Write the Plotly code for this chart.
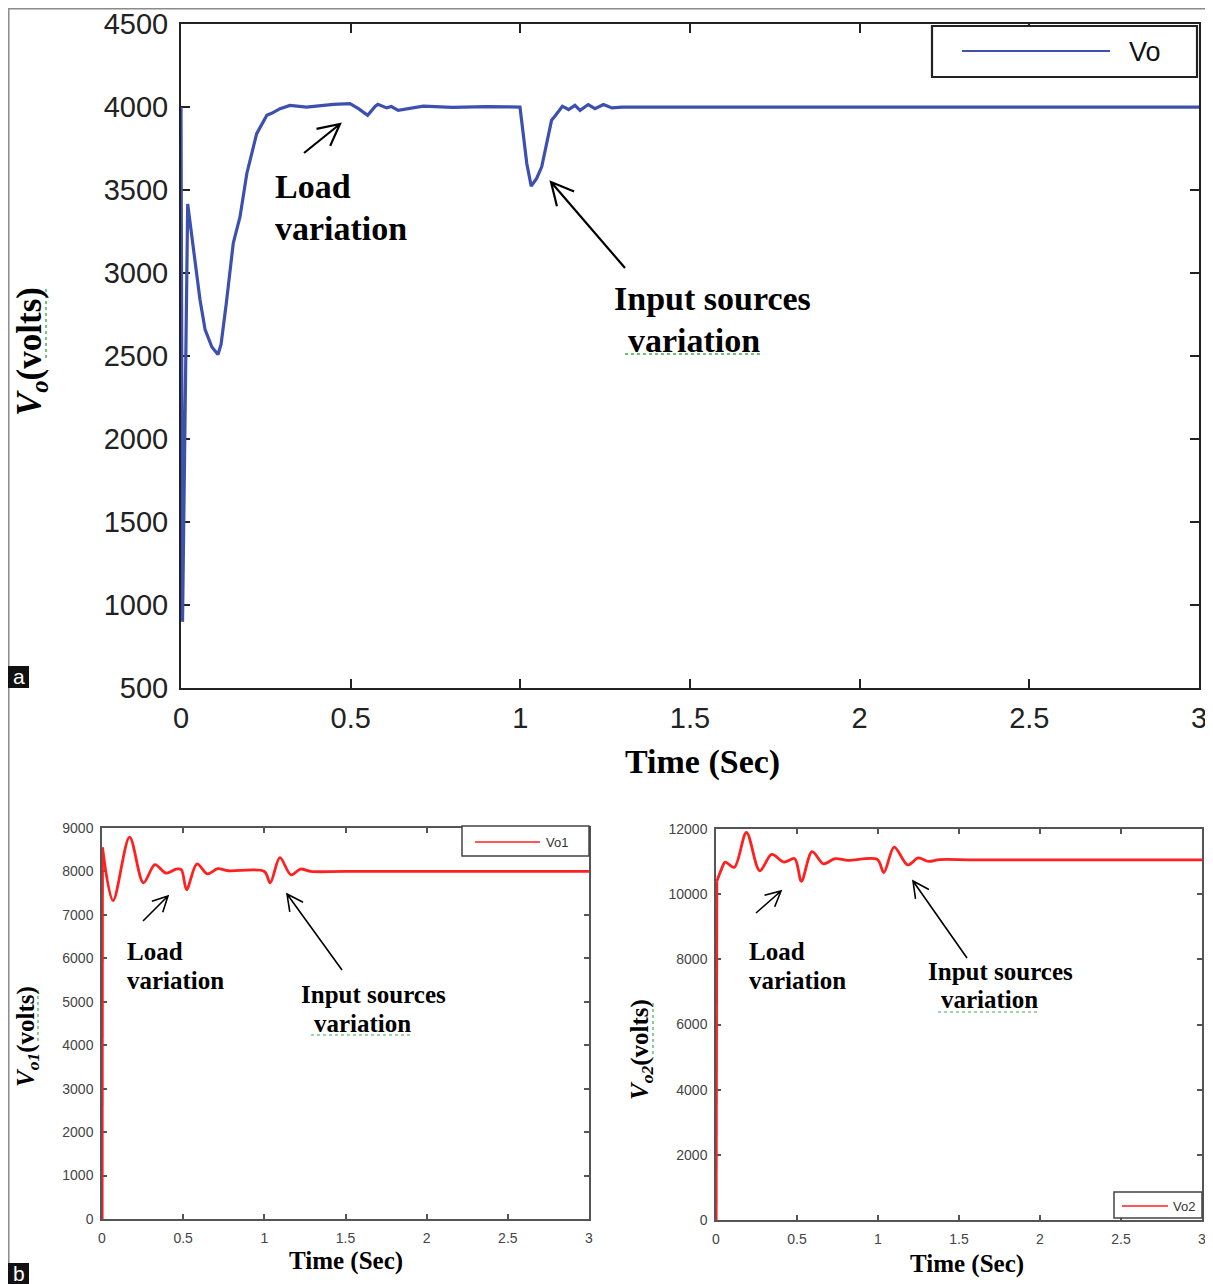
import math
import plotly.graph_objects as go

W, H = 1213, 1284          # browser window
OFF = 8                    # default page body margin
FW, FH = W - OFF, H - OFF  # figure size

# ---------------- data ----------------
# Panel (a): Vo
t_a = [0.000, 0.0045, 0.0197, 0.056, 0.071, 0.091, 0.109, 0.118, 0.133, 0.154,
       0.174, 0.194, 0.223, 0.253, 0.267, 0.292, 0.321, 0.370, 0.449, 0.498,
       0.523, 0.550, 0.572, 0.580, 0.606, 0.620, 0.640, 0.675, 0.714, 0.800,
       0.900, 0.999, 1.019, 1.032, 1.048, 1.063, 1.078, 1.092, 1.100, 1.124,
       1.142, 1.161, 1.176, 1.200, 1.220, 1.245, 1.270, 1.300, 1.500, 2.000,
       2.500, 3.000]
vo = [4000, 900, 3416, 2840, 2660, 2555, 2510, 2570, 2810, 3180,
      3340, 3600, 3840, 3950, 3962, 3990, 4010, 4000, 4016, 4020,
      3990, 3950, 4004, 4016, 3995, 4003, 3980, 3990, 4005, 3998,
      4002, 4000, 3660, 3524, 3570, 3640, 3780, 3920, 3940, 4005,
      3985, 4010, 3980, 4015, 3990, 4015, 3995, 4000, 4000, 4000,
      4000, 4000]

# Panel (b) left: Vo1
t_b1 = [0.001, 0.003, 0.068, 0.170, 0.255, 0.326, 0.394, 0.457, 0.489, 0.521,
        0.585, 0.649, 0.713, 0.777, 1.000, 1.036, 1.096, 1.164, 1.223, 1.287,
        1.500, 3.000]
vo1 = [0, 8553, 7328, 8791, 7739, 8158, 7960, 8055, 8040, 7581,
       8174, 7945, 8063, 8016, 8000, 7739, 8316, 7921, 8055, 8000,
       8000, 8000]

# Panel (b) right: Vo2
t_b2 = [0.001, 0.005, 0.034, 0.057, 0.113, 0.188, 0.270, 0.344, 0.419, 0.486,
        0.527, 0.593, 0.663, 0.735, 0.814, 0.995, 1.036, 1.100, 1.183, 1.249,
        1.312, 1.380, 1.600, 3.000]
vo2 = [0, 10396, 10770, 10984, 10824, 11893, 10717, 11219, 10984, 11090,
       10396, 11305, 10930, 11090, 11037, 11070, 10663, 11444, 10898, 11112,
       11005, 11060, 11050, 11050]

x_ticks = [0, 0.5, 1, 1.5, 2, 2.5, 3]
x_tick_text = ["0", "0.5", "1", "1.5", "2", "2.5", "3"]
y_ticks_a = [500, 1000, 1500, 2000, 2500, 3000, 3500, 4000, 4500]
y_ticks_b1 = [0, 1000, 2000, 3000, 4000, 5000, 6000, 7000, 8000, 9000]
y_ticks_b2 = [0, 2000, 4000, 6000, 8000, 10000, 12000]

BLUE = "#3d50b0"
RED = "#ff2020"

# ---------------- helpers (page pixels -> paper fraction) ----------------
def px(x):
    return (x - OFF) / FW

def py(y):
    return 1 - (y - OFF) / FH

def dom_x(x0, x1):
    return [px(x0), px(x1)]

def dom_y(y0, y1):
    return [py(y1), py(y0)]

fig = go.Figure()

fig.add_trace(go.Scatter(x=t_a, y=vo, mode="lines", line=dict(color=BLUE, width=3.2),
                         name="Vo", xaxis="x", yaxis="y", showlegend=False))
# Vo1: start-up rise (straight) + smooth response
fig.add_trace(go.Scatter(x=t_b1[:2], y=vo1[:2], mode="lines", line=dict(color=RED, width=2.8),
                         name="Vo1", xaxis="x2", yaxis="y2", showlegend=False))
fig.add_trace(go.Scatter(x=t_b1[1:], y=vo1[1:], mode="lines", line=dict(color=RED, width=2.8, shape="spline", smoothing=0.9),
                         name="Vo1", xaxis="x2", yaxis="y2", showlegend=False))
# Vo2
fig.add_trace(go.Scatter(x=t_b2[:2], y=vo2[:2], mode="lines", line=dict(color=RED, width=2.8),
                         name="Vo2", xaxis="x3", yaxis="y3", showlegend=False))
fig.add_trace(go.Scatter(x=t_b2[1:], y=vo2[1:], mode="lines", line=dict(color=RED, width=2.8, shape="spline", smoothing=0.9),
                         name="Vo2", xaxis="x3", yaxis="y3", showlegend=False))

SANS = "Liberation Sans, Arial, sans-serif"
SERIF = "Liberation Serif, Times New Roman, serif"

def xaxis(domain, anchor, size, color, ticklen, lcolor, lw, standoff):
    return dict(domain=domain, anchor=anchor, range=[0, 3], tickvals=x_ticks, ticktext=x_tick_text,
                ticks="inside", ticklen=ticklen, tickcolor=lcolor, tickwidth=1.5,
                showline=True, linecolor=lcolor, linewidth=lw, mirror="ticks",
                showgrid=False, zeroline=False, automargin=False, layer="below traces",
                tickfont=dict(family=SANS, size=size, color=color), ticklabelstandoff=standoff)

def yaxis(domain, anchor, rng, vals, size, color, ticklen, lcolor, lw, standoff):
    return dict(domain=domain, anchor=anchor, range=rng, tickvals=vals, ticktext=[str(v) for v in vals],
                ticks="inside", ticklen=ticklen, tickcolor=lcolor, tickwidth=1.5,
                showline=True, linecolor=lcolor, linewidth=lw, mirror="ticks",
                showgrid=False, zeroline=False, automargin=False, layer="below traces",
                tickfont=dict(family=SANS, size=size, color=color), ticklabelstandoff=standoff)

fig.update_layout(
    template="none",
    width=FW, height=FH, margin=dict(l=0, r=0, t=0, b=0, pad=0, autoexpand=False),
    paper_bgcolor="white", plot_bgcolor="white",
    xaxis=xaxis(dom_x(181, 1199), "y", 29, "#222", 9, "#222", 2, 3),
    yaxis=yaxis(dom_y(24, 688.3), "x", [500, 4500], y_ticks_a, 29, "#222", 9, "#222", 2, 5),
    xaxis2=xaxis(dom_x(102, 589), "y2", 14, "#444", 5, "#555", 1.5, 5),
    yaxis2=yaxis(dom_y(828, 1219), "x2", [0, 9000], y_ticks_b1, 14, "#444", 5, "#555", 1.5, 4),
    xaxis3=xaxis(dom_x(716, 1202), "y3", 14, "#444", 5, "#555", 1.5, 5),
    yaxis3=yaxis(dom_y(829, 1220), "x3", [0, 12000], y_ticks_b2, 14, "#444", 5, "#555", 1.5, 4),
)

shapes = []
annotations = []

def rect_px(x0, y0, x1, y1, line_color, lw, fill=None):
    shapes.append(dict(type="rect", xref="paper", yref="paper",
                       x0=px(x0), x1=px(x1), y0=py(y1), y1=py(y0),
                       line=dict(color=line_color, width=lw),
                       fillcolor=fill if fill else "rgba(0,0,0,0)", layer="above"))

def line_px(x0, y0, x1, y1, color, lw, dash="solid"):
    shapes.append(dict(type="line", xref="paper", yref="paper",
                       x0=px(x0), x1=px(x1), y0=py(y0), y1=py(y1),
                       line=dict(color=color, width=lw, dash=dash), layer="above"))

def text_px(x, y, text, size, family=SANS, color="black", xanchor="center", angle=0):
    annotations.append(dict(xref="paper", yref="paper", x=px(x), y=py(y), text=text,
                            showarrow=False, xanchor=xanchor, yanchor="middle", textangle=angle,
                            font=dict(family=family, size=size, color=color)))

def arrow_px(tail, head, blen, lw, ang=27):
    hx, hy = head
    tx, ty = tail
    d = math.hypot(tx - hx, ty - hy)
    ux, uy = (tx - hx) / d, (ty - hy) / d
    pts = []
    for s in (1, -1):
        a = math.radians(ang * s)
        bx = ux * math.cos(a) - uy * math.sin(a)
        by = ux * math.sin(a) + uy * math.cos(a)
        pts.append((hx + blen * bx, hy + blen * by))
    path = (f"M {px(tx)} {py(ty)} L {px(hx)} {py(hy)} "
            f"M {px(pts[0][0])} {py(pts[0][1])} L {px(hx)} {py(hy)} L {px(pts[1][0])} {py(pts[1][1])}")
    shapes.append(dict(type="path", xref="paper", yref="paper", path=path,
                       line=dict(color="black", width=lw), layer="above"))

# outer frame
rect_px(8.8, 8.8, 1225, 1300, "#8a8a8a", 1.5)

# panel labels
rect_px(8, 666, 29, 688, "#111", 0, fill="#111")
text_px(18.5, 676, "a", 21, color="white")
rect_px(8, 1263, 29, 1284, "#111", 0, fill="#111")
text_px(18.5, 1273, "b", 21, color="white")

# legends
rect_px(932, 26, 1197, 77, "#222", 2.2, fill="white")
line_px(962, 51, 1110, 51, BLUE, 2.2)
text_px(1127, 52, "Vo", 27, xanchor="left", color="#111")

rect_px(462, 826, 589, 856, "#444", 1.5, fill="white")
line_px(475, 842, 540, 842, RED, 1.6)
text_px(544, 842, "Vo1", 13, xanchor="left", color="#333")

rect_px(1114, 1192, 1202, 1218, "#444", 1.5, fill="white")
line_px(1122, 1206, 1168, 1206, RED, 1.6)
text_px(1171, 1206, "Vo2", 13, xanchor="left", color="#333")

# axis titles
text_px(703, 762, "<b>Time (Sec)</b>", 34, family=SERIF)
text_px(346, 1261, "<b>Time (Sec)</b>", 25, family=SERIF)
text_px(967, 1264, "<b>Time (Sec)</b>", 25, family=SERIF)
text_px(31, 352, "<b><i>V</i><sub><i>o</i></sub>(volts)</b>", 35, family=SERIF, angle=-90)
text_px(27, 1037, "<b><i>V</i><sub><i>o1</i></sub>(volts)</b>", 25, family=SERIF, angle=-90)
text_px(641, 1050, "<b><i>V</i><sub><i>o2</i></sub>(volts)</b>", 25, family=SERIF, angle=-90)

# annotations text
text_px(273, 187, "<b>Load</b>", 34, family=SERIF, xanchor="left")
text_px(273, 229, "<b>variation</b>", 34, family=SERIF, xanchor="left")
text_px(712, 298, "<b>Input sources</b>", 34, family=SERIF)
text_px(694, 340, "<b>variation</b>", 34, family=SERIF)

text_px(125, 951, "<b>Load</b>", 25, family=SERIF, xanchor="left")
text_px(125, 980, "<b>variation</b>", 25, family=SERIF, xanchor="left")
text_px(373, 994, "<b>Input sources</b>", 25, family=SERIF)
text_px(362, 1023, "<b>variation</b>", 25, family=SERIF)

text_px(747, 951, "<b>Load</b>", 25, family=SERIF, xanchor="left")
text_px(747, 980, "<b>variation</b>", 25, family=SERIF, xanchor="left")
text_px(1000, 971, "<b>Input sources</b>", 25, family=SERIF)
text_px(989, 1000, "<b>variation</b>", 25, family=SERIF)

# arrows
arrow_px((304, 153), (340, 124), 24, 2.2)
arrow_px((625, 268), (551, 182), 25, 2.2)
arrow_px((143, 921), (168, 896), 17, 1.6)
arrow_px((342, 970), (287, 894), 18, 1.6)
arrow_px((756, 913), (781, 891), 17, 1.6)
arrow_px((967, 958), (913, 881), 18, 1.6)

# green spell-check squiggles
GREEN = "#3cb043"
line_px(46, 289, 46, 360, GREEN, 1.4, "dot")
line_px(625, 354, 763, 354, GREEN, 1.4, "dot")
line_px(38, 990, 38, 1042, GREEN, 1.2, "dot")
line_px(311, 1035, 413, 1035, GREEN, 1.2, "dot")
line_px(653, 1003, 653, 1058, GREEN, 1.2, "dot")
line_px(938, 1012, 1040, 1012, GREEN, 1.2, "dot")

fig.update_layout(shapes=shapes, annotations=annotations)
fig.write_html("out.html")
